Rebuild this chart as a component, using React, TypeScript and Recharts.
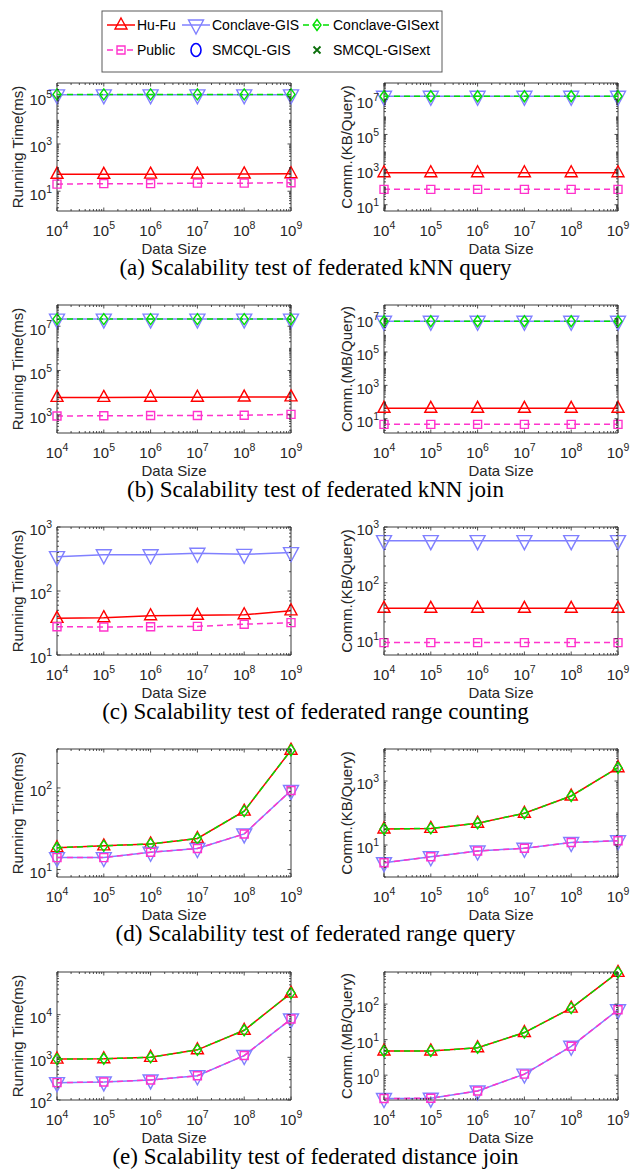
import React from 'react';
import { LineChart, Line, XAxis, YAxis, ReferenceArea } from 'recharts';

// ---------- data ----------
// Data size (number of objects) on every x axis
const dataSizes = [1e4, 1e5, 1e6, 1e7, 1e8, 1e9];

// (a) federated kNN query
const knnQueryTimeHuFu = [52, 52, 53, 53, 54, 55];
const knnQueryTimeConclaveGIS = [1.2e5, 1.2e5, 1.2e5, 1.2e5, 1.2e5, 1.2e5];
const knnQueryTimeConclaveGISext = [1.25e5, 1.25e5, 1.25e5, 1.25e5, 1.25e5, 1.25e5];
const knnQueryTimePublic = [20, 21, 21, 22, 22, 23];
const knnQueryCommHuFu = [660, 660, 660, 660, 660, 660];
const knnQueryCommConclaveGIS = [1.5e7, 1.5e7, 1.5e7, 1.5e7, 1.5e7, 1.5e7];
const knnQueryCommConclaveGISext = [1.5e7, 1.5e7, 1.5e7, 1.5e7, 1.5e7, 1.5e7];
const knnQueryCommPublic = [75, 75, 75, 75, 75, 75];

// (b) federated kNN join
const knnJoinTimeHuFu = [6100, 6100, 6200, 6200, 6300, 6400];
const knnJoinTimeConclaveGIS = [2.1e7, 2.1e7, 2.1e7, 2.1e7, 2.1e7, 2.1e7];
const knnJoinTimeConclaveGISext = [2.1e7, 2.1e7, 2.1e7, 2.1e7, 2.1e7, 2.1e7];
const knnJoinTimePublic = [880, 900, 920, 920, 950, 1040];
const knnJoinCommHuFu = [42, 42, 42, 42, 42, 42];
const knnJoinCommConclaveGIS = [7e6, 7e6, 7e6, 7e6, 7e6, 7e6];
const knnJoinCommConclaveGISext = [7e6, 7e6, 7e6, 7e6, 7e6, 7e6];
const knnJoinCommPublic = [4.6, 4.6, 4.6, 4.6, 4.6, 4.6];

// (c) federated range counting
const rangeCountTimeHuFu = [37.4, 38.3, 41, 41.7, 42.6, 49];
const rangeCountTimeConclaveGIS = [344, 369, 369, 388, 374, 398];
const rangeCountTimePublic = [27.7, 27.4, 27.7, 28, 30.3, 32];
const rangeCountCommHuFu = [35, 35, 35, 35, 35, 35];
const rangeCountCommConclaveGIS = [569, 569, 569, 569, 569, 569];
const rangeCountCommPublic = [8.5, 8.5, 8.5, 8.5, 8.5, 8.5];

// (d) federated range query
const rangeQueryTimeHuFu = [18.5, 19.5, 20.6, 24, 52, 290];
const rangeQueryTimeConclaveGIS = [14, 14, 16.3, 18.1, 27.3, 93];
const rangeQueryTimeConclaveGISext = [18.5, 19.5, 20.6, 24, 52, 290];
const rangeQueryTimePublic = [14, 14, 16.3, 18.1, 27.3, 93];
const rangeQueryCommHuFu = [31.6, 33, 48, 98, 340, 2600];
const rangeQueryCommConclaveGIS = [2.8, 4.3, 6.5, 7.9, 12, 13.6];
const rangeQueryCommConclaveGISext = [31.6, 33, 48, 98, 340, 2600];
const rangeQueryCommPublic = [2.8, 4.3, 6.5, 7.9, 12, 13.6];

// (e) federated distance join
const distJoinTimeHuFu = [910, 925, 1000, 1500, 4300, 32000];
const distJoinTimeConclaveGIS = [255, 265, 295, 370, 1100, 7900];
const distJoinTimeConclaveGISext = [910, 925, 1000, 1500, 4300, 32000];
const distJoinTimePublic = [255, 265, 295, 370, 1100, 7900];
const distJoinCommHuFu = [4.8, 4.8, 5.9, 15.8, 77, 780];
const distJoinCommConclaveGIS = [0.22, 0.225, 0.36, 1.07, 6.5, 69];
const distJoinCommConclaveGISext = [4.8, 4.8, 5.9, 15.8, 77, 780];
const distJoinCommPublic = [0.22, 0.225, 0.36, 1.07, 6.5, 69];

const captions = [
  '(a) Scalability test of federated kNN query',
  '(b) Scalability test of federated kNN join',
  '(c) Scalability test of federated range counting',
  '(d) Scalability test of federated range query',
  '(e) Scalability test of federated distance join',
];

const TIME_TITLE = 'Running Time(ms)';
const COMM_KB_TITLE = 'Comm.(KB/Query)';
const COMM_MB_TITLE = 'Comm.(MB/Query)';

// ---------- styling ----------
const SANS = '"Liberation Sans", Arial, Helvetica, sans-serif';
const SERIF = '"Liberation Serif", "Times New Roman", serif';
const INK = '#262626';

const HUFU_COLOR = '#FF0000';
const GIS_COLOR = '#8080FF';
const GISEXT_COLOR = '#00E000';
const PUBLIC_COLOR = '#FF33CC';
const SMCQL_GIS_COLOR = '#0000FF';
const SMCQL_GISEXT_COLOR = '#0A6E0A';

const PW = 234; // plot width
const PH = 128; // plot height
const MT = 10; // chart top margin
const XAXIS_H = 50;
const ROW_TOPS = [83, 305, 527, 749, 972];
const COL_LEFT = [0, 315];
const Y_AXIS_W = [57, 69];
const CHART_W = [310, 316];
const Y_TITLE_X = [17.5, 31];
const MAJOR_LEN = 3.5;
const MINOR_LEN = 2;

type Panel = {
  row: number;
  col: number;
  yTitle: string;
  yDomain: [number, number];
  yLabels: number[];
  hufu: number[];
  gis: number[];
  gisext?: number[];
  pub: number[];
};

const panels: Panel[] = [
  { row: 0, col: 0, yTitle: TIME_TITLE, yDomain: [1.46, 3.8e5], yLabels: [1e1, 1e3, 1e5],
    hufu: knnQueryTimeHuFu, gis: knnQueryTimeConclaveGIS, gisext: knnQueryTimeConclaveGISext, pub: knnQueryTimePublic },
  { row: 0, col: 1, yTitle: COMM_KB_TITLE, yDomain: [4.4, 8.5e7], yLabels: [1e1, 1e3, 1e5, 1e7],
    hufu: knnQueryCommHuFu, gis: knnQueryCommConclaveGIS, gisext: knnQueryCommConclaveGISext, pub: knnQueryCommPublic },
  { row: 1, col: 0, yTitle: TIME_TITLE, yDomain: [150, 9.1e7], yLabels: [1e3, 1e5, 1e7],
    hufu: knnJoinTimeHuFu, gis: knnJoinTimeConclaveGIS, gisext: knnJoinTimeConclaveGISext, pub: knnJoinTimePublic },
  { row: 1, col: 1, yTitle: COMM_MB_TITLE, yDomain: [1.39, 6.6e7], yLabels: [1e1, 1e3, 1e5, 1e7],
    hufu: knnJoinCommHuFu, gis: knnJoinCommConclaveGIS, gisext: knnJoinCommConclaveGISext, pub: knnJoinCommPublic },
  { row: 2, col: 0, yTitle: TIME_TITLE, yDomain: [10, 1000], yLabels: [10, 100, 1000],
    hufu: rangeCountTimeHuFu, gis: rangeCountTimeConclaveGIS, pub: rangeCountTimePublic },
  { row: 2, col: 1, yTitle: COMM_KB_TITLE, yDomain: [5.1, 1000], yLabels: [10, 100, 1000],
    hufu: rangeCountCommHuFu, gis: rangeCountCommConclaveGIS, pub: rangeCountCommPublic },
  { row: 3, col: 0, yTitle: TIME_TITLE, yDomain: [8.1, 300], yLabels: [10, 100],
    hufu: rangeQueryTimeHuFu, gis: rangeQueryTimeConclaveGIS, gisext: rangeQueryTimeConclaveGISext, pub: rangeQueryTimePublic },
  { row: 3, col: 1, yTitle: COMM_KB_TITLE, yDomain: [1, 1e4], yLabels: [10, 1000],
    hufu: rangeQueryCommHuFu, gis: rangeQueryCommConclaveGIS, gisext: rangeQueryCommConclaveGISext, pub: rangeQueryCommPublic },
  { row: 4, col: 0, yTitle: TIME_TITLE, yDomain: [100, 1e5], yLabels: [100, 1000, 1e4],
    hufu: distJoinTimeHuFu, gis: distJoinTimeConclaveGIS, gisext: distJoinTimeConclaveGISext, pub: distJoinTimePublic },
  { row: 4, col: 1, yTitle: COMM_MB_TITLE, yDomain: [0.2, 800], yLabels: [1, 10, 100],
    hufu: distJoinCommHuFu, gis: distJoinCommConclaveGIS, gisext: distJoinCommConclaveGISext, pub: distJoinCommPublic },
];

// ---------- helpers ----------
const isLabeled = (v: number, labeled: number[]) =>
  labeled.some((t) => Math.abs(Math.log10(v / t)) < 1e-9);

function logTicks(min: number, max: number, labeled: number[]) {
  const out: number[] = [...labeled];
  for (let k = Math.floor(Math.log10(min)); k <= Math.ceil(Math.log10(max)); k++) {
    for (let m = 1; m <= 9; m++) {
      const v = m * Math.pow(10, k);
      if (v >= min * (1 - 1e-9) && v <= max * (1 + 1e-9) && !isLabeled(v, labeled)) out.push(v);
    }
  }
  return out.sort((a, b) => a - b);
}

const xTicks = logTicks(dataSizes[0], dataSizes[dataSizes.length - 1], dataSizes);

function markerPath(kind: string, cx: number, cy: number) {
  switch (kind) {
    case 'triUp':
      return `M${cx},${cy - 7}L${cx + 6},${cy + 4}L${cx - 6},${cy + 4}Z`;
    case 'triDown':
      return `M${cx - 7.5},${cy - 5}L${cx + 7.5},${cy - 5}L${cx},${cy + 9}Z`;
    case 'diamond':
      return `M${cx},${cy - 5.5}L${cx + 4},${cy}L${cx},${cy + 5.5}L${cx - 4},${cy}Z`;
    case 'square':
      return `M${cx - 4},${cy - 4}h8v8h-8Z`;
    case 'cross':
      return `M${cx - 3.5},${cy - 3.5}L${cx + 3.5},${cy + 3.5}M${cx - 3.5},${cy + 3.5}L${cx + 3.5},${cy - 3.5}`;
    default:
      return '';
  }
}

const dotRenderer = (kind: string, color: string) => (props: any) => {
  const { cx, cy, index } = props;
  if (cx == null || cy == null || Number.isNaN(cy)) return <g key={`${kind}-${index}`} />;
  return (
    <path key={`${kind}-${index}`} d={markerPath(kind, cx, cy)} fill="none" stroke={color} strokeWidth={1.4} />
  );
};

const PowerLabel = ({ x, y, value, anchor }: { x: number; y: number; value: number; anchor: string }) => (
  <text x={x} y={y} textAnchor={anchor} fontFamily={SANS} fontSize={15} fill={INK}>
    <tspan>10</tspan>
    <tspan dy={-7} fontSize={10.5}>{Math.round(Math.log10(value))}</tspan>
  </text>
);

const makeXTick = () => (props: any) => {
  const { x, payload } = props;
  const v = payload.value;
  const major = isLabeled(v, dataSizes);
  const len = major ? MAJOR_LEN : MINOR_LEN;
  return (
    <g>
      <line x1={x} x2={x} y1={MT + PH} y2={MT + PH - len} stroke={INK} strokeWidth={0.8} />
      <line x1={x} x2={x} y1={MT} y2={MT + len} stroke={INK} strokeWidth={0.8} />
      {major && <PowerLabel x={x} y={MT + PH + 25} value={v} anchor="middle" />}
    </g>
  );
};

const makeYTick = (left: number, labeled: number[]) => (props: any) => {
  const { y, payload } = props;
  const v = payload.value;
  const major = isLabeled(v, labeled);
  const len = major ? MAJOR_LEN : MINOR_LEN;
  return (
    <g>
      <line x1={left} x2={left + len} y1={y} y2={y} stroke={INK} strokeWidth={0.8} />
      <line x1={left + PW - len} x2={left + PW} y1={y} y2={y} stroke={INK} strokeWidth={0.8} />
      {major && <PowerLabel x={left - 5} y={y + 8.4} value={v} anchor="end" />}
    </g>
  );
};

const XTitle = ({ centerX }: { centerX: number }) => (
  <text x={centerX} y={MT + PH + 42.5} textAnchor="middle" fontFamily={SANS} fontSize={15} fill={INK}>
    Data Size
  </text>
);

const YTitle = ({ anchorX, axisTitle }: { anchorX: number; axisTitle: string }) => {
  const cy = MT + PH / 2;
  return (
    <text
      x={anchorX}
      y={cy}
      transform={`rotate(-90 ${anchorX} ${cy})`}
      textAnchor="middle"
      dominantBaseline="central"
      fontFamily={SANS}
      fontSize={15}
      fill={INK}
    >
      {axisTitle}
    </text>
  );
};

function PanelChart({ p }: { p: Panel }) {
  const yw = Y_AXIS_W[p.col];
  const width = CHART_W[p.col];
  const right = width - yw - PW;
  const rows = dataSizes.map((size, i) => ({
    size,
    hufu: p.hufu[i],
    gis: p.gis[i],
    gisext: p.gisext ? p.gisext[i] : undefined,
    pub: p.pub[i],
  }));
  const yTicks = logTicks(p.yDomain[0], p.yDomain[1], p.yLabels);
  return (
    <div style={{ position: 'absolute', left: COL_LEFT[p.col], top: ROW_TOPS[p.row] - MT }}>
      <LineChart width={width} height={MT + PH + XAXIS_H} data={rows} margin={{ top: MT, right, bottom: 0, left: 0 }}>
        <XAxis
          dataKey="size"
          type="number"
          scale="log"
          domain={[dataSizes[0], dataSizes[dataSizes.length - 1]]}
          ticks={xTicks}
          interval={0}
          tickLine={false}
          axisLine={false}
          tick={makeXTick()}
          height={XAXIS_H}
          label={<XTitle centerX={yw + PW / 2} />}
        />
        <YAxis
          type="number"
          scale="log"
          domain={p.yDomain}
          ticks={yTicks}
          interval={0}
          tickLine={false}
          axisLine={false}
          tick={makeYTick(yw, p.yLabels)}
          width={yw}
          label={<YTitle anchorX={Y_TITLE_X[p.col]} axisTitle={p.yTitle} />}
        />
        <ReferenceArea
          x1={dataSizes[0]}
          x2={dataSizes[dataSizes.length - 1]}
          y1={p.yDomain[0]}
          y2={p.yDomain[1]}
          fill="none"
          fillOpacity={0}
          stroke={INK}
          strokeWidth={0.9}
          ifOverflow="visible"
        />
        <Line dataKey="hufu" type="linear" stroke={HUFU_COLOR} strokeWidth={1.5}
          dot={dotRenderer('triUp', HUFU_COLOR)} activeDot={false} isAnimationActive={false} />
        <Line dataKey="gis" type="linear" stroke={GIS_COLOR} strokeWidth={1.5}
          dot={dotRenderer('triDown', GIS_COLOR)} activeDot={false} isAnimationActive={false} />
        {p.gisext && (
          <Line dataKey="gisext" type="linear" stroke={GISEXT_COLOR} strokeWidth={1.5} strokeDasharray="6 4"
            dot={dotRenderer('diamond', GISEXT_COLOR)} activeDot={false} isAnimationActive={false} />
        )}
        <Line dataKey="pub" type="linear" stroke={PUBLIC_COLOR} strokeWidth={1.5} strokeDasharray="6 4"
          dot={dotRenderer('square', PUBLIC_COLOR)} activeDot={false} isAnimationActive={false} />
      </LineChart>
    </div>
  );
}

// ---------- shared legend ----------
const legendEntries = [
  { name: 'Hu-Fu', color: HUFU_COLOR, marker: 'triUp', dash: '', line: true, col: 0, row: 0 },
  { name: 'Conclave-GIS', color: GIS_COLOR, marker: 'triDown', dash: '', line: true, col: 1, row: 0 },
  { name: 'Conclave-GISext', color: GISEXT_COLOR, marker: 'diamond', dash: '6 4', line: true, col: 2, row: 0 },
  { name: 'Public', color: PUBLIC_COLOR, marker: 'square', dash: '6 4', line: true, col: 0, row: 1 },
  { name: 'SMCQL-GIS', color: SMCQL_GIS_COLOR, marker: 'circle', dash: '', line: false, col: 1, row: 1 },
  { name: 'SMCQL-GISext', color: SMCQL_GISEXT_COLOR, marker: 'cross', dash: '', line: false, col: 2, row: 1 },
];

const LEG_COL_X = [5, 80, 201];
const LEG_ROW_Y = [14, 39];

function SharedLegend() {
  return (
    <svg width={342} height={63} style={{ position: 'absolute', left: 101, top: 10 }}>
      <rect x={1} y={1} width={340} height={61} fill="#fff" stroke="#5a5a5a" strokeWidth={1} />
      {legendEntries.map((e) => {
        const x0 = LEG_COL_X[e.col] + 1;
        const cy = LEG_ROW_Y[e.row] + 1;
        const cx = x0 + 14;
        return (
          <g key={e.name}>
            {e.line && (
              <line x1={x0} x2={x0 + 28} y1={cy} y2={cy} stroke={e.color} strokeWidth={1.5}
                strokeDasharray={e.dash || undefined} />
            )}
            {e.marker === 'circle' ? (
              <ellipse cx={cx} cy={cy} rx={5} ry={6.5} fill="none" stroke={e.color} strokeWidth={1.6} />
            ) : (
              <path d={markerPath(e.marker, cx, cy)} fill="none" stroke={e.color}
                strokeWidth={e.marker === 'cross' ? 1.8 : 1.4} />
            )}
            <text x={x0 + 30} y={cy} dominantBaseline="central" fontFamily={SANS} fontSize={14} fill="#000">
              {e.name}
            </text>
          </g>
        );
      })}
    </svg>
  );
}

export default function App() {
  return (
    <div style={{ position: 'absolute', left: 0, top: 0, width: 631, height: 1172, background: '#fff', overflow: 'hidden' }}>
      <SharedLegend />
      {panels.map((p) => (
        <PanelChart key={`${p.row}-${p.col}`} p={p} />
      ))}
      {captions.map((c, r) => (
        <div
          key={c}
          style={{
            position: 'absolute',
            left: 0,
            width: 631,
            top: ROW_TOPS[r] + 185 - 14,
            height: 28,
            lineHeight: '28px',
            textAlign: 'center',
            fontFamily: SERIF,
            fontSize: 23,
            color: '#000',
            whiteSpace: 'nowrap',
          }}
        >
          {c}
        </div>
      ))}
    </div>
  );
}
